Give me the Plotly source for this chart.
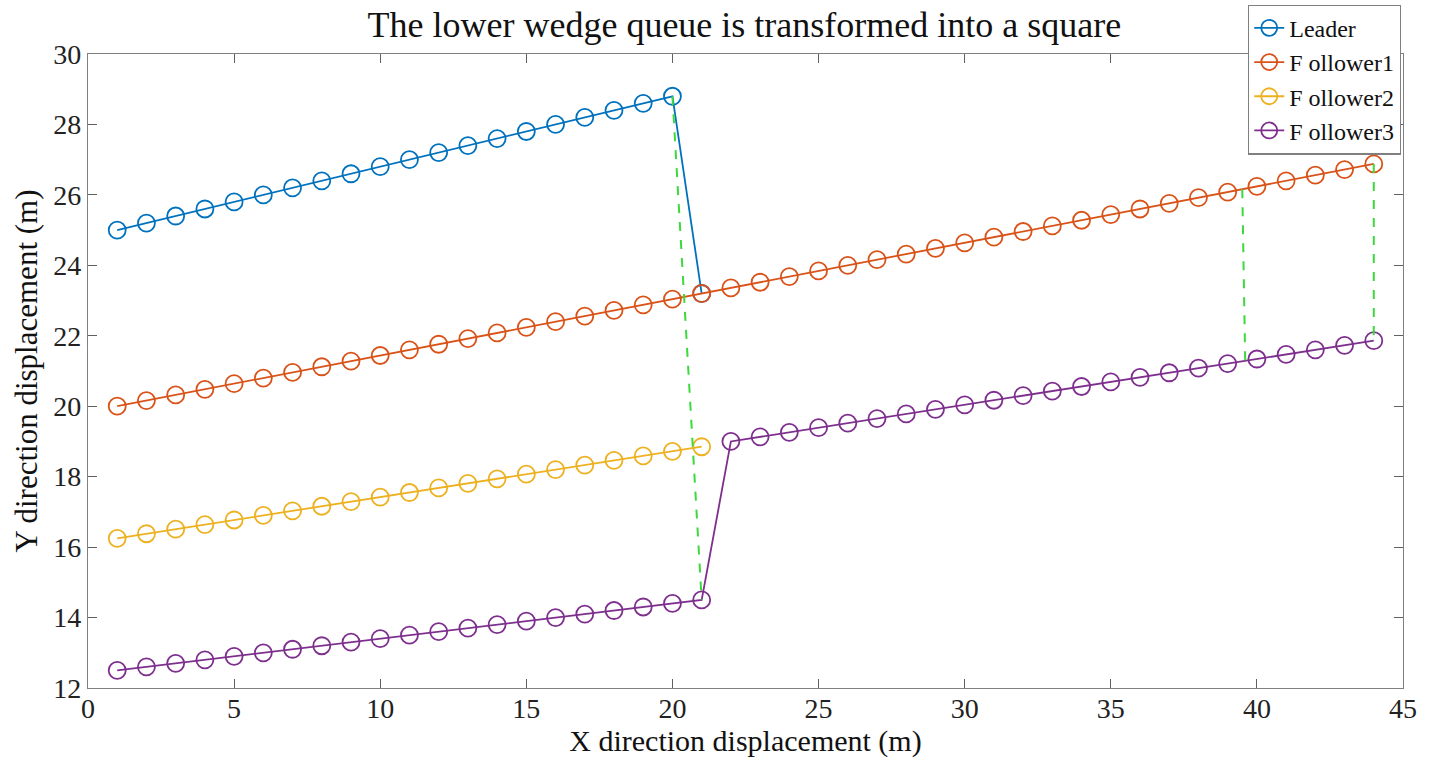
import plotly.graph_objects as go

# Data
leader_x = list(range(1, 22))
leader_y = [25.0, 25.2, 25.4, 25.6, 25.8, 26.0, 26.2, 26.4, 26.6, 26.8, 27.0,
            27.2, 27.4, 27.6, 27.8, 28.0, 28.2, 28.4, 28.6, 28.8, 23.2]

f1_x = list(range(1, 45))
f1_y = [20.00, 20.16, 20.32, 20.48, 20.64, 20.80, 20.96, 21.12, 21.28, 21.44,
        21.60, 21.76, 21.92, 22.08, 22.24, 22.40, 22.56, 22.72, 22.88, 23.04,
        23.20, 23.36, 23.52, 23.68, 23.84, 24.00, 24.16, 24.32, 24.48, 24.64,
        24.80, 24.96, 25.12, 25.28, 25.44, 25.60, 25.76, 25.92, 26.08, 26.24,
        26.40, 26.56, 26.72, 26.88]

f2_x = list(range(1, 22))
f2_y = [16.25, 16.38, 16.51, 16.64, 16.77, 16.90, 17.03, 17.16, 17.29, 17.42,
        17.55, 17.68, 17.81, 17.94, 18.07, 18.20, 18.33, 18.46, 18.59, 18.72,
        18.85]

f3_x = list(range(1, 45))
f3_y = [12.5, 12.6, 12.7, 12.8, 12.9, 13.0, 13.1, 13.2, 13.3, 13.4, 13.5,
        13.6, 13.7, 13.8, 13.9, 14.0, 14.1, 14.2, 14.3, 14.4, 14.5,
        19.00, 19.13, 19.26, 19.39, 19.52, 19.65, 19.78, 19.91, 20.04, 20.17,
        20.30, 20.43, 20.56, 20.69, 20.82, 20.95, 21.08, 21.21, 21.34, 21.47,
        21.60, 21.73, 21.86]

# Green dashed connectors (x pairs, y pairs)
conn1_x = [20, 21]
conn1_y = [28.8, 14.5]
conn2_x = [39.5, 39.6]
conn2_y = [26.16, 21.3]
conn3_x = [44, 44]
conn3_y = [26.88, 21.86]

series_names = ["Leader", "F ollower1", "F ollower2", "F ollower3"]
colors = ["#0072BD", "#D95319", "#EDB120", "#7E2F8E"]

FONT = "Liberation Serif, Times New Roman, serif"

fig = go.Figure()
for name, xs, ys, c in zip(series_names,
                           [leader_x, f1_x, f2_x, f3_x],
                           [leader_y, f1_y, f2_y, f3_y], colors):
    fig.add_trace(go.Scatter(
        x=xs, y=ys, name=name, mode="lines+markers",
        line=dict(color=c, width=1.8),
        marker=dict(symbol="circle-open", size=17, color=c, line=dict(width=1.8)),
    ))

for cx, cy in [(conn1_x, conn1_y), (conn2_x, conn2_y), (conn3_x, conn3_y)]:
    fig.add_trace(go.Scatter(
        x=cx, y=cy, mode="lines", showlegend=False, hoverinfo="skip",
        line=dict(color="#3cd93c", width=2, dash="dash"),
    ))

axis_common = dict(
    showgrid=False, zeroline=False, showline=True, mirror="ticks",
    linecolor="#808080", linewidth=1.2, ticks="inside", ticklen=9,
    tickcolor="#606060", tickwidth=1.2, automargin=False,
    tickfont=dict(family=FONT, size=28, color="#222222"),
)

fig.update_layout(
    width=1437, height=773,
    paper_bgcolor="white", plot_bgcolor="white",
    margin=dict(l=88, r=34, t=54, b=85, autoexpand=False),
    title=dict(text="The lower wedge queue is transformed into a square",
               x=0.518, xanchor="center", y=0.968, yanchor="middle",
               font=dict(family=FONT, size=36, color="#111111")),
    xaxis=dict(range=[0, 45], tickvals=[0, 5, 10, 15, 20, 25, 30, 35, 40, 45],
               ticklabelstandoff=-5,
               title=dict(text="X direction displacement (m)",
                          font=dict(family=FONT, size=30, color="#111111"),
                          standoff=0),
               **axis_common),
    yaxis=dict(range=[12, 30], tickvals=[12, 14, 16, 18, 20, 22, 24, 26, 28, 30],
               title=dict(text="Y direction displacement (m)",
                          font=dict(family=FONT, size=31, color="#111111"),
                          standoff=6),
               **axis_common),
    legend=dict(x=0.9985, xanchor="right", y=1.078, yanchor="top",
                bgcolor="white", bordercolor="#808080", borderwidth=1.2,
                font=dict(family=FONT, size=24, color="#111111"),
                tracegroupgap=0, itemwidth=30),
    showlegend=True,
)

fig.write_html("out.html")
